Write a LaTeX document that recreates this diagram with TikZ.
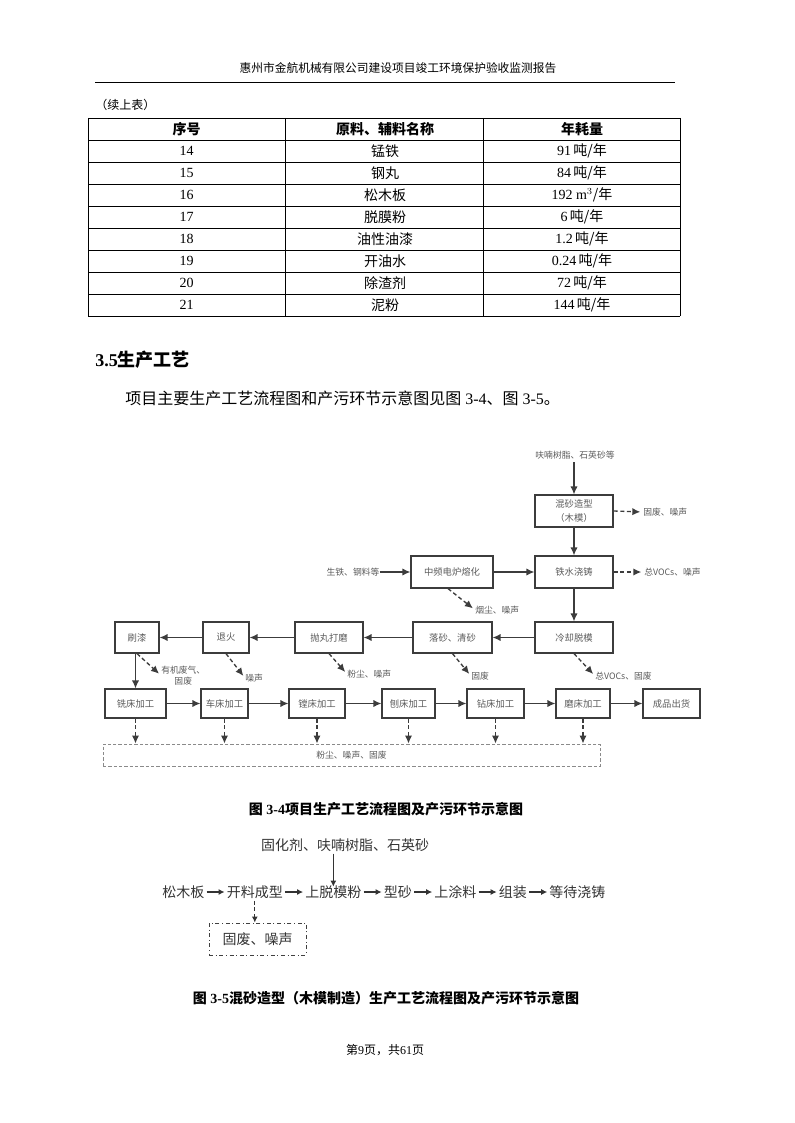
\documentclass[tikz,border=0pt]{standalone}
\usepackage{fontspec}
\setmainfont{Liberation Serif}
\newfontfamily\cjk{Noto Sans CJK SC}
\usetikzlibrary{arrows.meta,positioning}
\definecolor{ln}{HTML}{3C3C3C}
\definecolor{tx}{HTML}{5A5A5A}
\newcommand\dun[1]{#1\,{\cjk 吨/年}}
\begin{document}
\begin{tikzpicture}[x=0.75pt,y=-0.75pt,
  bx/.style 2 args={minimum width=#1*0.75pt, minimum height=#2*0.75pt},
  box/.style={draw=ln, line width=0.9pt, text=tx, font=\cjk\fontsize{7}{11}\selectfont, inner sep=1pt, align=center},
  lab/.style={text=tx, font=\cjk\fontsize{6.6}{8.2}\selectfont, inner sep=0pt, align=center},
  flow/.style={draw=ln, line width=1pt, -{Latex[length=6pt,width=5.5pt]}},
  emit/.style={flow, dash pattern=on 3pt off 2pt},
  tbl/.style={line width=0.6pt},
  tt/.style={font=\fontsize{10.5}{12}\selectfont, inner sep=0pt},
  tc/.style={font=\cjk\fontsize{10.5}{12}\selectfont, inner sep=0pt},
  f5/.style={font=\cjk\fontsize{10.5}{12}\selectfont, text=black!80, inner sep=0pt},
  f5arrow/.style={draw=black!80, line width=0.8pt, -{Latex[length=4.5pt,width=4.5pt]}, shorten <=1.5pt, shorten >=1.5pt}
]
\useasboundingbox (0,0) rectangle (794,1123);

% page header
\node[font=\cjk\fontsize{8.8}{10}\selectfont, inner sep=0pt] (hdr) at (398,68) {惠州市金航机械有限公司建设项目竣工环境保护验收监测报告};
\draw[line width=0.6pt] (95,82) -- (675,82);
\node[font=\cjk\fontsize{9}{10}\selectfont, anchor=west, inner sep=0pt] (cont) at (95,105) {（续上表）};

% table
\foreach \k in {0,...,9} \draw[tbl] (88,{118+22*\k}) -- (680,{118+22*\k});
\foreach \xx in {88,285,483,680} \draw[tbl] (\xx,118) -- (\xx,316);
\node[tc, font=\cjk\bfseries\fontsize{10.5}{12}\selectfont] (h1) at (186.5,129) {序号};
\node[tc, font=\cjk\bfseries\fontsize{10.5}{12}\selectfont] (h2) at (385,129) {原料、辅料名称};
\node[tc, font=\cjk\bfseries\fontsize{10.5}{12}\selectfont] (h3) at (582,129) {年耗量};
\foreach \nm/\mat/\amt [count=\i] in {14/锰铁/\dun{91}, 15/钢丸/\dun{84}, 16/松木板/{192 m$^3${\cjk /年}}, 17/脱膜粉/\dun{6}, 18/油性油漆/\dun{1.2}, 19/开油水/\dun{0.24}, 20/除渣剂/\dun{72}, 21/泥粉/\dun{144}}{
  \node[tt] (no\i) at (186.5,{129+22*\i}) {\nm};
  \node[tc] (ma\i) at (385,{129+22*\i}) {\mat};
  \node[tt] (am\i) at (582,{129+22*\i}) {\amt};
}

% section
\node[anchor=west, inner sep=0pt, font=\bfseries\fontsize{13.5}{15}\selectfont] (sec) at (95,360) {3.5{\cjk 生产工艺}};
\node[anchor=west, inner sep=0pt, font=\fontsize{12}{14}\selectfont] (body) at (125,398) {{\cjk 项目主要生产工艺流程图和产污环节示意图见图} 3-4{\cjk 、图} 3-5{\cjk 。}};

% ---------- Figure 3-4 ----------
\node[box,bx={78}{32}] (mix) at (574,511) {混砂造型\\（木模）};
\node[box,bx={78}{32}] (cast) at (574,572) {铁水浇铸};
\node[box,bx={82}{32}] (melt) at (452,572) {中频电炉熔化};
\node[box,bx={78}{31}] (cool) at (574,637.5) {冷却脱模};
\node[box,bx={79}{31}] (sand) at (452.5,637.5) {落砂、清砂};
\node[box,bx={68}{31}] (shot) at (329,637.5) {抛丸打磨};
\node[box,bx={46}{31}] (anneal) at (226,637.5) {退火};
\node[box,bx={44}{31}] (paint) at (137,637.5) {刷漆};

\node[box,bx={61}{29}] (mill) at (135.5,703.5) {铣床加工};
\node[box,bx={47}{29}] (lathe) at (224.5,703.5) {车床加工};
\node[box,bx={56}{29}] (bore) at (317,703.5) {镗床加工};
\node[box,bx={53}{29}] (plane) at (408.5,703.5) {刨床加工};
\node[box,bx={57}{29}] (drill) at (495.5,703.5) {钻床加工};
\node[box,bx={54}{29}] (grind) at (583,703.5) {磨床加工};
\node[box,bx={57}{29}] (ship) at (671.5,703.5) {成品出货};

\node[lab, draw=ln!60, line width=0.7pt, dash pattern=on 2.5pt off 1.5pt, bx={497}{22}] (waste) at (351.5,755) {粉尘、噪声、固废};

\node[lab] (resin) at (575,455) {呋喃树脂、石英砂等};
\node[lab] (iron) at (353,572) {生铁、钢料等};

\node[lab, anchor=west] (e1) at (643,512) {固废、噪声};
\node[lab, anchor=west] (e2) at (644,572) {总VOCs、噪声};
\node[lab, anchor=west] (e3) at (475,610) {烟尘、噪声};
\node[lab, anchor=west] (e4) at (595,676) {总VOCs、固废};
\node[lab, anchor=west] (e5) at (471,676) {固废};
\node[lab, anchor=west] (e6) at (347,674) {粉尘、噪声};
\node[lab, anchor=west] (e7) at (245,678) {噪声};
\node[lab, anchor=west] (e8) at (161,675.5) {有机废气、\\固废};

\draw[flow] (mix.north |- resin.south) ++(0,3) -- (mix.north);
\draw[flow] (iron.east) -- (melt.west);
\draw[flow] (mix) -- (cast);
\draw[flow] (melt) -- (cast);
\draw[flow] (cast) -- (cool);
\draw[flow] (cool) -- (sand);
\draw[flow] (sand) -- (shot);
\draw[flow] (shot) -- (anneal);
\draw[flow] (anneal) -- (paint);
\draw[flow] (paint.south -| mill.north) -- (mill.north);
\draw[flow] (mill) -- (lathe);
\draw[flow] (lathe) -- (bore);
\draw[flow] (bore) -- (plane);
\draw[flow] (plane) -- (drill);
\draw[flow] (drill) -- (grind);
\draw[flow] (grind) -- (ship);

\draw[emit, shorten >=2pt] (mix.east) -- (e1.west);
\draw[emit, shorten >=2pt] (cast.east) -- (e2.west);
\draw[emit, shorten >=2pt] ([xshift=-3pt]melt.south) -- (e3.west);
\draw[emit, shorten >=2pt] (cool.south) -- (e4.west);
\draw[emit, shorten >=2pt] (sand.south) -- (e5.west);
\draw[emit, shorten >=2pt] (shot.south) -- (e6.west);
\draw[emit, shorten >=2pt] (anneal.south) -- (e7.west);
\draw[emit, shorten >=2pt] (paint.south) -- (e8.west);
\foreach \b in {mill,lathe,bore,plane,drill,grind}
  \draw[emit] (\b.south) -- (\b.south |- waste.north);

\node[inner sep=0pt, font=\bfseries\fontsize{10.5}{12}\selectfont] (cap1) at (386,809) {{\cjk 图} 3-4{\cjk 项目生产工艺流程图及产污环节示意图}};

% ---------- Figure 3-5 ----------
\node[f5] (resin2) at (345,845) {固化剂、呋喃树脂、石英砂};
\node[f5, anchor=west] (s1) at (162,892) {松木板};
\node[f5, right=16.5pt of s1] (s2) {开料成型};
\node[f5, right=16.5pt of s2] (s3) {上脱模粉};
\node[f5, right=16.5pt of s3] (s4) {型砂};
\node[f5, right=16.5pt of s4] (s5) {上涂料};
\node[f5, right=16.5pt of s5] (s6) {组装};
\node[f5, right=16.5pt of s6] (s7) {等待浇铸};
\draw[f5arrow] (s1) -- (s2);
\draw[f5arrow] (s2) -- (s3);
\draw[f5arrow] (s3) -- (s4);
\draw[f5arrow] (s4) -- (s5);
\draw[f5arrow] (s5) -- (s6);
\draw[f5arrow] (s6) -- (s7);
\draw[f5arrow, shorten >=-1pt] (resin2.south -| s3.north) -- (s3.north);
\node[f5, draw=black!75, line width=0.7pt, dash dot, bx={97}{32}] (waste2) at (257.5,939) {固废、噪声};
\draw[f5arrow, dash pattern=on 3pt off 2pt, shorten >=0pt] (s2.south) -- (s2.south |- waste2.north);

\node[inner sep=0pt, font=\bfseries\fontsize{10.5}{12}\selectfont] (cap2) at (386,998) {{\cjk 图} 3-5{\cjk 混砂造型（木模制造）生产工艺流程图及产污环节示意图}};

% footer
\node[inner sep=0pt, font=\fontsize{9}{10}\selectfont] (foot) at (385,1050) {{\cjk 第}9{\cjk 页，共}61{\cjk 页}};
\end{tikzpicture}
\end{document}
